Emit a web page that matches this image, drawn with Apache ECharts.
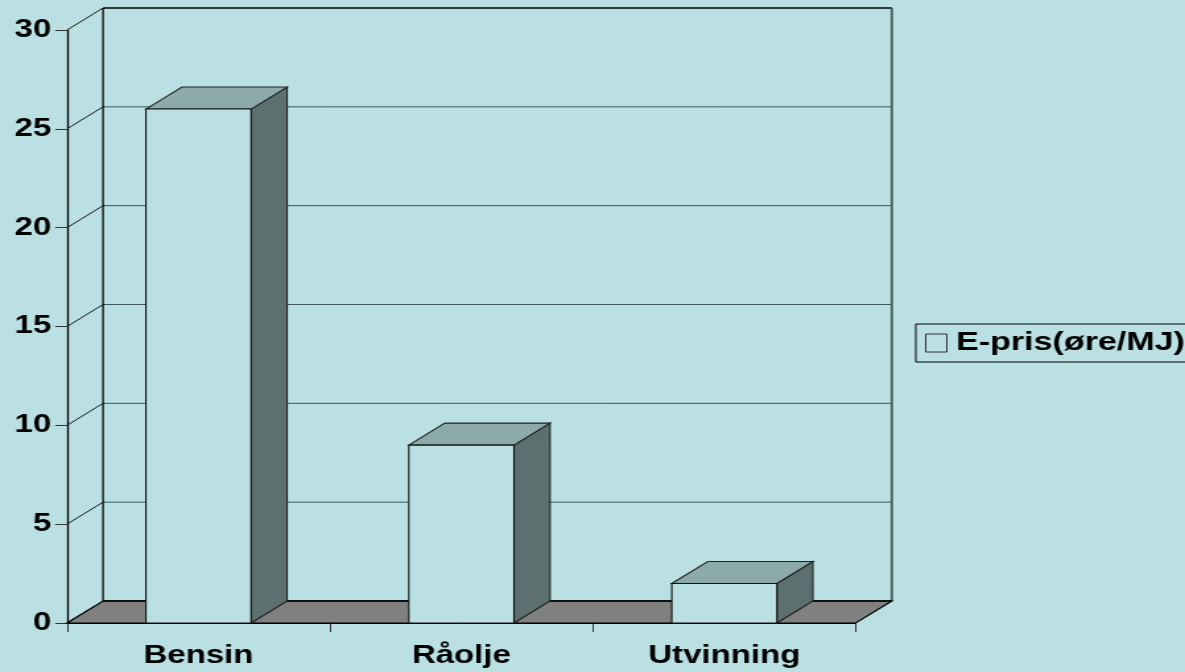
<!DOCTYPE html>
<html>
<head>
<meta charset="utf-8">
<script src="https://cdn.jsdelivr.net/npm/echarts@6/dist/echarts.min.js"></script>
<style>
html,body{margin:0;padding:0;background:#BBE0E3;}
#wrap{width:1185px;height:672px;overflow:hidden;background:#BBE0E3;}
#c{width:898px;height:672px;transform:scaleX(1.3196);transform-origin:0 0;}
</style>
</head>
<body>
<div id="wrap"><div id="c"></div></div>
<script>
const categories = ['Bensin', 'Råolje', 'Utvinning'];
const seriesName = 'E-pris(øre/MJ)';
const values = [26, 9, 2];
const yTicks = [0, 5, 10, 15, 20, 25, 30];

const BG = '#BBE0E3';
const DX = 27.3, DY = -22;
const FONT = "'Liberation Sans', Arial, sans-serif";

const chart = echarts.init(document.getElementById('c'), null, {renderer: 'canvas'});

function renderFrame(params, api) {
  const cs = params.coordSys;
  const x0 = cs.x, x1 = cs.x + cs.width;
  const yb = api.coord([0, 0])[1];
  const yt = api.coord([0, yTicks[yTicks.length - 1]])[1];
  const children = [];
  yTicks.forEach(function (v, i) {
    const y = api.coord([0, v])[1];
    const isTop = i === yTicks.length - 1;
    children.push({type: 'line', shape: {x1: x0, y1: y, x2: x0 + DX, y2: y + DY},
      style: {stroke: '#111', lineWidth: 1}});
    children.push({type: 'line', shape: {x1: x0 + DX, y1: y + DY, x2: x1 + DX, y2: y + DY},
      style: {stroke: isTop ? '#000' : '#3a5656', lineWidth: isTop ? 1.6 : 1}});
  });
  children.push({type: 'line', shape: {x1: x0 + DX, y1: yt + DY, x2: x0 + DX, y2: yb + DY},
    style: {stroke: '#000', lineWidth: 1.3}});
  children.push({type: 'line', shape: {x1: x1 + DX, y1: yt + DY, x2: x1 + DX, y2: yb + DY},
    style: {stroke: '#4a5a5c', lineWidth: 1.8}});
  children.push({type: 'polygon',
    shape: {points: [[x0, yb], [x1, yb], [x1 + DX, yb + DY], [x0 + DX, yb + DY]]},
    style: {fill: '#808080', stroke: '#000', lineWidth: 1.2}});
  children.push({type: 'line', shape: {x1: x0 + DX, y1: yb + DY, x2: x1 + DX, y2: yb + DY},
    style: {stroke: '#111', lineWidth: 2.2}});
  return {type: 'group', children: children};
}

function renderBar(params, api) {
  const xi = api.value(0), v = api.value(1);
  const top = api.coord([xi, v]);
  const base = api.coord([xi, 0]);
  const bw = api.size([1, 0])[0] * 0.4;
  const xl = top[0] - bw / 2, xr = top[0] + bw / 2;
  const yv = top[1], y0 = base[1];
  return {type: 'group', children: [
    {type: 'polygon', shape: {points: [[xr, yv], [xr + DX, yv + DY], [xr + DX, y0 + DY], [xr, y0]]},
      style: {fill: '#5D7070', stroke: '#222', lineWidth: 1.1}},
    {type: 'polygon', shape: {points: [[xl, yv], [xl + DX, yv + DY], [xr + DX, yv + DY], [xr, yv]]},
      style: {fill: '#8DAAAB', stroke: '#222', lineWidth: 1.1}},
    {type: 'rect', shape: {x: xl, y: yv, width: bw, height: y0 - yv},
      style: {fill: BG, stroke: '#111', lineWidth: 1.1}}
  ]};
}

const option = {
  backgroundColor: BG,
  animation: false,
  grid: {left: 50.8, right: 249.5, top: 30, bottom: 49, containLabel: false},
  legend: {
    data: [{name: seriesName, icon: 'rect',
      itemStyle: {color: BG, borderColor: '#333', borderWidth: 1}}],
    left: 694, top: 324,
    orient: 'vertical',
    itemWidth: 16, itemHeight: 18,
    padding: [6, 12, 6, 7],
    borderColor: '#000', borderWidth: 1,
    selectedMode: false,
    textStyle: {fontFamily: FONT, fontWeight: 'bold', fontSize: 25.8, color: '#000', padding: [0, 0, 0, 2]}
  },
  xAxis: {
    type: 'category',
    data: categories,
    boundaryGap: true,
    axisLine: {show: true, lineStyle: {color: '#000', width: 1}},
    axisTick: {show: true, length: 9, lineStyle: {color: '#333'}},
    axisLabel: {fontFamily: FONT, fontWeight: 'bold', fontSize: 25, color: '#000', margin: 21},
    splitLine: {show: false}
  },
  yAxis: {
    type: 'value',
    min: 0, max: 30, interval: 5,
    axisLine: {show: true, lineStyle: {color: '#000', width: 1.3}},
    axisTick: {show: true, length: 9, lineStyle: {color: '#333'}},
    axisLabel: {fontFamily: FONT, fontWeight: 'bold', fontSize: 25, color: '#000', margin: 12},
    splitLine: {show: false}
  },
  series: [
    {type: 'custom', name: 'frame', z: 1, silent: true, data: [[0, 0]], renderItem: renderFrame},
    {type: 'custom', name: seriesName, z: 3, itemStyle: {color: BG},
      data: values.map(function (v, i) { return [i, v]; }), renderItem: renderBar}
  ]
};
chart.setOption(option);
</script>
</body>
</html>
